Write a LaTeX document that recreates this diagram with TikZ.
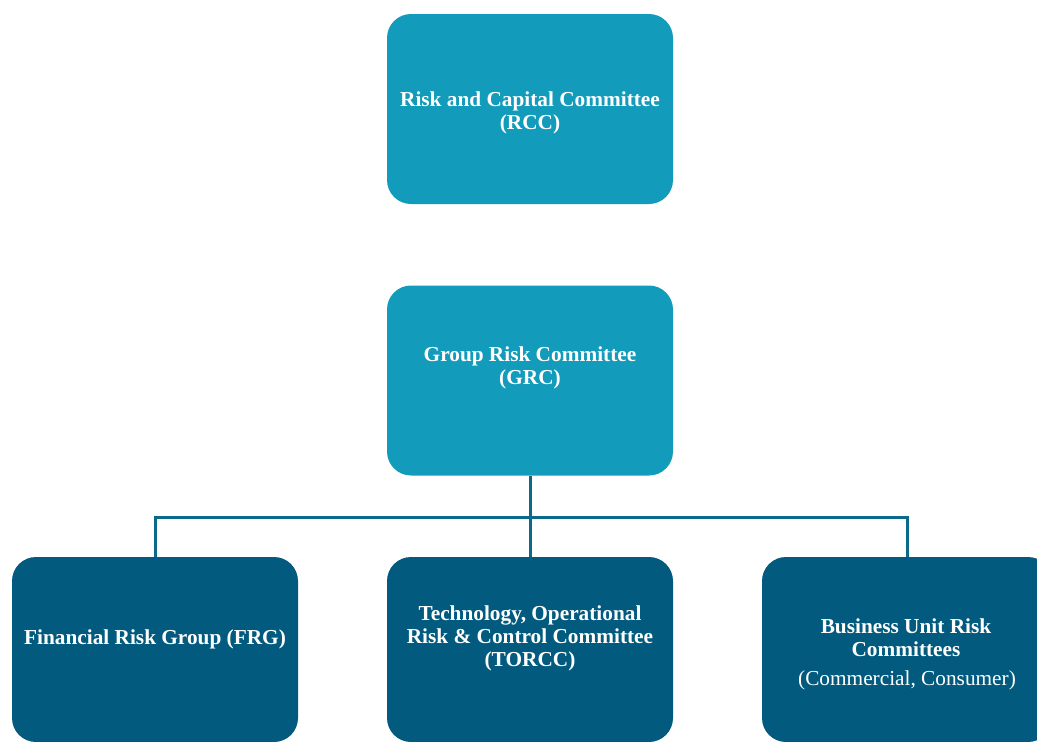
\documentclass[tikz,border=0pt]{standalone}
\usepackage{fontspec}
\setmainfont{Liberation Serif}
\definecolor{lightbox}{HTML}{139BBB}
\definecolor{darkbox}{HTML}{025B7E}
\definecolor{linkc}{HTML}{0B6A8A}
\begin{document}
\begin{tikzpicture}[x=1pt,y=-1pt,
  box/.style={draw=none,rounded corners=24pt,minimum width=286pt,minimum height=190pt,inner sep=0pt},
  lightb/.style={box,fill=lightbox},
  darkb/.style={box,fill=darkbox},
  lbl/.style={text=white,align=center,inner sep=0pt,font=\fontsize{21.3}{23}\selectfont\bfseries},
  sublbl/.style={text=white,align=center,inner sep=0pt,font=\fontsize{21.3}{23}\selectfont},
  link/.style={draw=linkc,line width=3pt}]
\useasboundingbox (0,0) rectangle (1037,742);
\begin{scope}
\clip (0,0) rectangle (1037,742);
\node[lightb] (rcc) at (530,109) {};
\node[lbl] (rcct) at (530,113) {Risk and Capital Committee\\(RCC)};
\node[lightb] (grc) at (530,380.5) {};
\node[lbl] (grct) at (530,368) {Group Risk Committee\\(GRC)};
\node[darkb,minimum height=185pt] (frg) at (155,649.5) {};
\node[lbl] (frgt) at (155,639) {Financial Risk Group (FRG)};
\node[darkb,minimum height=185pt] (torcc) at (530,649.5) {};
\node[lbl] (torcct) at (530,638.5) {Technology, Operational\\Risk \& Control Committee\\(TORCC)};
\node[darkb,minimum height=185pt,minimum width=290pt] (burc) at (907,649.5) {};
\node[lbl] (burct) at (906,638) {Business Unit Risk\\Committees};
\node[sublbl] (burcs) at (907,680) {(Commercial, Consumer)};
\end{scope}
\coordinate (hub) at (530,517);
\draw[link] (grc.south) -- (torcc.north);
\draw[link] (frg.north) -- (frg.north |- hub) -- (hub -| burc.north) -- (burc.north);
\end{tikzpicture}
\end{document}
